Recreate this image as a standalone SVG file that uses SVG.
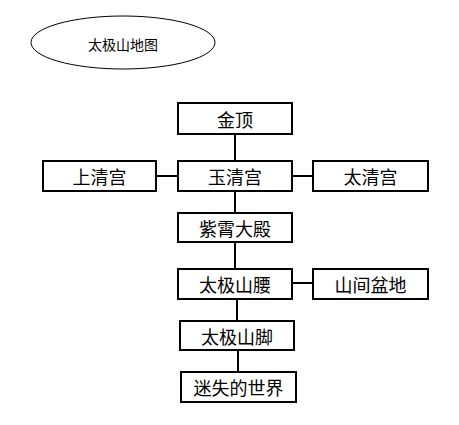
<svg xmlns="http://www.w3.org/2000/svg" width="459" height="425" viewBox="0 0 459 425">
<style>
.box{fill:#fff;stroke:#000;stroke-width:2}
.t{font-family:"Noto Sans CJK SC","Noto Sans CJK JP",sans-serif;font-size:18px;text-anchor:middle;dominant-baseline:central;fill:#000}
.c{stroke:#000;stroke-width:2;fill:none}
</style>
<rect width="459" height="425" fill="#fff"/>
<g id="title">
<ellipse cx="123" cy="42.5" rx="92" ry="26.5" fill="#fff" stroke="#000" stroke-width="1"/>
<text x="123" y="43.5" class="t" style="font-size:14px">太极山地图</text>
</g>
<g id="connectors">
<line class="c" x1="235" y1="134" x2="235" y2="161"/>
<line class="c" x1="156" y1="176" x2="178" y2="176"/>
<line class="c" x1="292" y1="176" x2="313" y2="176"/>
<line class="c" x1="235" y1="191" x2="235" y2="213"/>
<line class="c" x1="235" y1="242" x2="235" y2="269"/>
<line class="c" x1="292" y1="283" x2="313" y2="283"/>
<line class="c" x1="237" y1="299" x2="237" y2="321"/>
<line class="c" x1="238" y1="350" x2="238" y2="372"/>
</g>
<g id="jinding"><rect class="box" x="178" y="103" width="114" height="31"/><text class="t" x="235" y="118.5">金顶</text></g>
<g id="yuqinggong"><rect class="box" x="178" y="161" width="114" height="30"/><text class="t" x="235" y="176">玉清宫</text></g>
<g id="shangqinggong"><rect class="box" x="43" y="161" width="113" height="30"/><text class="t" x="99.5" y="176">上清宫</text></g>
<g id="taiqinggong"><rect class="box" x="313" y="161" width="115" height="30"/><text class="t" x="370.5" y="176">太清宫</text></g>
<g id="zixiaodadian"><rect class="box" x="178" y="213" width="114" height="29"/><text class="t" x="235" y="227.5">紫霄大殿</text></g>
<g id="shanyao"><rect class="box" x="178" y="269" width="114" height="30"/><text class="t" x="235" y="284">太极山腰</text></g>
<g id="shanjianpendi"><rect class="box" x="313" y="269" width="115" height="30"/><text class="t" x="370.5" y="284">山间盆地</text></g>
<g id="shanjiao"><rect class="box" x="180" y="321" width="114" height="29"/><text class="t" x="237" y="335.5">太极山脚</text></g>
<g id="mishi"><rect class="box" x="181" y="372" width="115" height="30"/><text class="t" x="238.5" y="387">迷失的世界</text></g>
</svg>
